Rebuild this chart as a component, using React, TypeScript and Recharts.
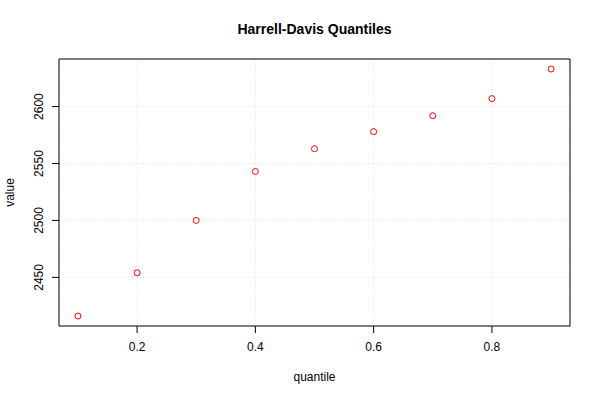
import {
  ScatterChart,
  Scatter,
  XAxis,
  YAxis,
  CartesianGrid,
  ReferenceArea,
  Label,
} from "recharts";

const quantiles = [0.1, 0.2, 0.3, 0.4, 0.5, 0.6, 0.7, 0.8, 0.9];
const values = [2416, 2454, 2500, 2543, 2563, 2578, 2592, 2607, 2633];
const xTicks = [0.2, 0.4, 0.6, 0.8];
const yTicks = [2450, 2500, 2550, 2600];

const X_DOMAIN = [0.068, 0.932];
const Y_DOMAIN = [2407.3, 2641.8];

const FONT = "'Liberation Sans', Arial, sans-serif";

const data = quantiles.map((q, i) => ({ q, v: values[i] }));

const YTick = (props: any) => {
  const { x, y, payload } = props;
  const tx = x - 7;
  return (
    <text
      x={tx}
      y={y}
      transform={`rotate(-90, ${tx}, ${y})`}
      textAnchor="middle"
      fontSize={12}
      fontFamily={FONT}
      fill="#000"
    >
      {payload.value}
    </text>
  );
};

const Ring = (props: any) => (
  <circle cx={props.cx} cy={props.cy} r={3} fill="none" stroke="#ff0000" strokeWidth={1} />
);

export default function App() {
  return (
    <div style={{ position: "absolute", left: 0, top: 0, width: 600, height: 400, background: "#fff", fontFamily: FONT }}>
      <div
        style={{
          position: "absolute",
          left: 59,
          width: 511,
          top: 21,
          textAlign: "center",
          fontSize: 14,
          fontWeight: "bold",
          color: "#000",
        }}
      >
        Harrell-Davis Quantiles
      </div>
      <ScatterChart width={600} height={400} margin={{ top: 59, right: 30, bottom: 0, left: 0 }}>
        <CartesianGrid stroke="#e2e2e2" strokeDasharray="1 2" />
        <XAxis
          type="number"
          dataKey="q"
          domain={X_DOMAIN}
          allowDataOverflow
          ticks={xTicks}
          height={74}
          axisLine={false}
          tickLine={{ stroke: "#000" }}
          tickSize={7}
          tickMargin={9}
          tick={{ fontSize: 12, fill: "#000", fontFamily: FONT }}
        >
          <Label
            value="quantile"
            position="insideBottom"
            offset={19}
            style={{ fontSize: 12, fill: "#000", fontFamily: FONT }}
          />
        </XAxis>
        <YAxis
          type="number"
          dataKey="v"
          domain={Y_DOMAIN}
          allowDataOverflow
          ticks={yTicks}
          width={59}
          axisLine={false}
          tickLine={{ stroke: "#000" }}
          tickSize={7}
          tick={<YTick />}
        >
          <Label
            content={({ viewBox }: any) => {
              const cx = 14;
              const cy = viewBox.y + viewBox.height / 2;
              return (
                <text
                  x={cx}
                  y={cy}
                  transform={`rotate(-90, ${cx}, ${cy})`}
                  textAnchor="middle"
                  fontSize={12}
                  fontFamily={FONT}
                  fill="#000"
                >
                  value
                </text>
              );
            }}
          />
        </YAxis>
        <ReferenceArea
          x1={X_DOMAIN[0]}
          x2={X_DOMAIN[1]}
          y1={Y_DOMAIN[0]}
          y2={Y_DOMAIN[1]}
          fill="none"
          stroke="#000"
          strokeWidth={1}
          ifOverflow="visible"
        />
        <Scatter data={data} shape={<Ring />} isAnimationActive={false} />
      </ScatterChart>
    </div>
  );
}
